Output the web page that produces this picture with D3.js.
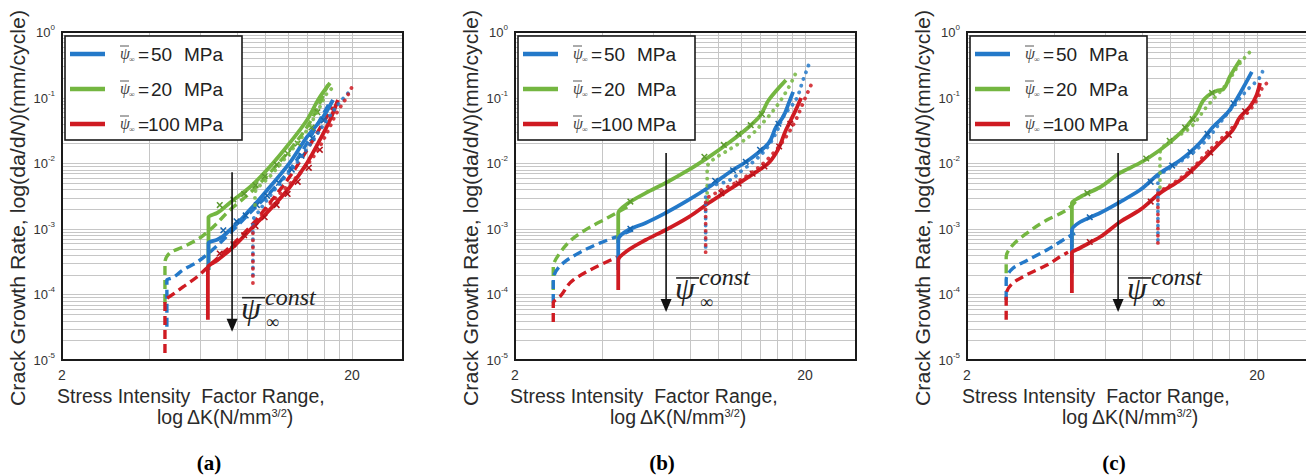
<!DOCTYPE html>
<meta charset="utf-8">
<style>
body { margin: 0; background: #fff; }
svg { display: block; }
.grid line { stroke: #c6c6c6; stroke-width: 1; shape-rendering: crispEdges; }
.tick { font: 14px "Liberation Sans", Arial, sans-serif; fill: #333; }
.lbl { font: 19.5px "Liberation Sans", Arial, sans-serif; fill: #2a2a2a; }
.leg { font: 19px "Liberation Sans", Arial, sans-serif; fill: #222; }
.serif { font-family: "Liberation Serif", "Times New Roman", serif; }
</style>
<body>
<script src="https://d3js.org/d3.v7.min.js"></script>
<script>

// axis ticks
var xGridTicks = [4, 6, 8, 10, 12, 14, 16, 18, 20];
var xTickLabels = [2, 20];
var yExponents = [0, -1, -2, -3, -4, -5];
var legendValues = ["50", "20", "100"];
var panelNames = ["(a)", "(b)", "(c)"];

// ---- panel (a) : [dK, da/dN]
var greenDashA = [[4.53,7.4e-5],[4.53,3.1e-4],[4.71,4.3e-4],[5.23,5.3e-4],[5.84,6.8e-4],[6.47,9.6e-4],[7.59,1.94e-3],[8.89,3.5e-3],[10.4,7.1e-3],[12.2,0.0159],[14.0,0.0356],[15.5,0.083],[16.5,0.156]];
var blueDashA  = [[4.6,3.2e-5],[4.6,1.66e-4],[4.78,1.78e-4],[5.23,2.36e-4],[5.84,3.1e-4],[6.47,4.4e-4],[7.59,8.6e-4],[8.89,1.74e-3],[10.4,3.5e-3],[12.2,7.9e-3],[14.0,0.0203],[15.5,0.0456],[16.8,0.0857]];
var redDashA   = [[4.53,1.28e-5],[4.53,8.2e-5],[4.71,9.3e-5],[5.23,1.3e-4],[5.84,1.84e-4],[6.47,2.8e-4],[7.59,5.3e-4],[8.89,1.06e-3],[10.4,2.47e-3],[12.2,6.2e-3],[14.0,0.0159],[15.9,0.041],[17.2,0.072]];
var greenSolidA = [[6.4,2.36e-4],[6.4,1.5e-3],[6.85,1.74e-3],[7.59,2.5e-3],[8.89,4.3e-3],[10.4,8.75e-3],[12.2,0.0203],[14.0,0.0456],[15.5,0.102],[16.8,0.167]];
var blueSolidA  = [[6.4,2.36e-4],[6.4,6.1e-4],[6.85,6.8e-4],[7.59,9.6e-4],[8.89,1.94e-3],[10.4,4.3e-3],[12.2,0.0101],[14.0,0.0251],[15.9,0.0506],[17.2,0.092]];
var redSolidA   = [[6.37,4.1e-5],[6.37,2.6e-4],[6.85,3.3e-4],[7.59,4.75e-4],[8.89,9.6e-4],[10.4,1.94e-3],[12.2,4.3e-3],[14.0,0.0101],[15.5,0.0226],[16.8,0.0456],[17.9,0.092]];
var greenDotA = [[9.26,2.3e-3],[9.26,3.5e-3],[10.4,6.2e-3],[12.2,0.0145],[14.0,0.032],[15.5,0.072],[16.8,0.13],[17.7,0.156]];
var blueDotA  = [[9.11,2.0e-4],[9.11,1.3e-3],[9.63,1.94e-3],[11.0,4.3e-3],[12.9,0.0101],[14.7,0.0226],[16.4,0.0456],[18.1,0.083],[19.4,0.117]];
var redDotA   = [[9.11,1.49e-4],[9.11,9.6e-4],[9.63,1.51e-3],[11.0,3.05e-3],[12.9,6.2e-3],[14.7,0.0124],[16.4,0.0289],[17.7,0.058],[19.2,0.102],[20,0.145]];
var greenMarkA = [[7.0,2.3e-3],[7.8,2.8e-3],[8.5,3.4e-3],[9.3,4.6e-3],[10.0,6.3e-3],[11.0,9.5e-3],[12.0,0.014],[13.0,0.02],[14.5,0.035],[15.2,0.06]];
var blueMarkA  = [[7.2,9.5e-4],[8.0,1.3e-3],[8.6,1.6e-3],[9.4,2.3e-3],[10.2,3.2e-3],[11.2,5.0e-3],[12.4,8.0e-3],[13.4,0.013],[14.6,0.024],[16.0,0.045]];
var redMarkA   = [[7.0,4.2e-4],[7.8,5.8e-4],[8.5,8.0e-4],[9.3,1.1e-3],[10.0,1.5e-3],[11.0,2.3e-3],[12.0,3.4e-3],[13.0,5.2e-3],[14.2,8.5e-3],[15.5,0.016]];

// ---- panel (b)
var greenDashB = [[2.71,1.17e-4],[2.71,2.62e-4],[2.86,4.3e-4],[3.18,7.2e-4],[3.63,1.06e-3],[4.16,1.46e-3],[4.88,2.15e-3]];
var blueDashB  = [[2.71,7.4e-5],[2.71,1.66e-4],[2.93,3.0e-4],[3.36,4.4e-4],[3.94,6.1e-4],[4.62,8.0e-4],[5.08,9.6e-4]];
var redDashB   = [[2.71,3.8e-5],[2.71,7.4e-5],[2.86,9.3e-5],[3.18,1.66e-4],[3.63,2.36e-4],[4.51,3.7e-4]];
var greenSolidB = [[4.54,6.1e-4],[4.54,1.74e-3],[4.92,2.47e-3],[5.64,3.5e-3],[6.61,5.0e-3],[7.94,7.9e-3],[9.31,0.0124],[10.9,0.0203],[12.8,0.0356],[13.9,0.0506],[15.0,0.092],[17.2,0.185]];
var blueSolidB  = [[4.54,2.36e-4],[4.54,6.75e-4],[4.92,9.6e-4],[5.64,1.23e-3],[6.61,1.74e-3],[7.94,2.75e-3],[9.31,4.3e-3],[10.9,7.1e-3],[12.8,0.0112],[15.0,0.0203],[15.9,0.0356],[16.8,0.0506],[17.6,0.083],[18.2,0.122]];
var redSolidB   = [[4.54,1.17e-4],[4.54,3.3e-4],[4.92,4.75e-4],[5.64,6.75e-4],[6.61,9.6e-4],[7.94,1.51e-3],[9.31,2.47e-3],[10.9,3.9e-3],[12.8,6.2e-3],[15.0,0.0101],[15.9,0.0143],[17.2,0.032],[18.6,0.065],[19.4,0.099]];
var greenDotB = [[9.2,2.75e-3],[9.2,8.75e-3],[9.61,0.0112],[10.9,0.0159],[12.8,0.0251],[14.3,0.041],[15.9,0.072],[17.6,0.145],[18.6,0.237]];
var blueDotB  = [[9.09,5.3e-4],[9.09,4.3e-3],[10.4,5.0e-3],[12.2,7.9e-3],[14.3,0.0143],[15.9,0.0289],[16.8,0.0506],[18.6,0.092],[19.7,0.185],[20.6,0.314]];
var redDotB   = [[9.09,4.4e-4],[9.09,2.75e-3],[9.84,3.5e-3],[11.5,5.0e-3],[13.5,7.9e-3],[15.9,0.0159],[17.2,0.0251],[18.6,0.0456],[19.7,0.083],[21.0,0.156]];
var greenMarkB = [[5.0,2.6e-3],[9.0,0.0125],[10.5,0.019],[11.8,0.028],[13.0,0.038],[14.2,0.056]];
var blueMarkB  = [[5.0,1.0e-3],[9.8,5.4e-3],[11.3,7.8e-3],[12.5,0.0105],[14.0,0.016],[16.2,0.04]];
var redMarkB   = [[10.3,3.5e-3],[11.8,4.9e-3],[13.2,6.9e-3],[14.5,8.9e-3],[16.3,0.018],[17.8,0.04]];

// ---- panel (c)
var greenDashC = [[2.73,2.1e-4],[2.73,3.7e-4],[2.88,5.7e-4],[3.22,8.6e-4],[3.77,1.36e-3],[4.29,1.8e-3],[4.79,2.75e-3]];
var blueDashC  = [[2.73,8.2e-5],[2.73,1.66e-4],[2.88,2.5e-4],[3.22,3.3e-4],[3.77,4.75e-4],[4.29,6.75e-4],[4.71,8.6e-4]];
var redDashC   = [[2.73,4.1e-5],[2.73,9.8e-5],[2.88,1.49e-4],[3.22,2.0e-4],[3.77,2.8e-4],[4.29,4.0e-4],[4.46,4.4e-4]];
var greenSolidC = [[4.6,5.3e-4],[4.6,2.47e-3],[4.91,3.05e-3],[5.75,4.3e-3],[6.74,7.1e-3],[7.9,0.0101],[9.26,0.0159],[10.9,0.0289],[12.4,0.058],[13.4,0.102],[14.6,0.128],[15.3,0.134],[16.1,0.206],[17.5,0.374]];
var blueSolidC  = [[4.6,2.1e-4],[4.6,9.6e-4],[4.91,1.27e-3],[5.75,1.74e-3],[6.74,2.56e-3],[7.9,3.9e-3],[9.26,7.1e-3],[10.9,0.0112],[12.7,0.0203],[14.1,0.0356],[15.8,0.058],[17.5,0.117],[19.2,0.246]];
var redSolidC   = [[4.6,1.05e-4],[4.6,4.3e-4],[4.91,5.1e-4],[5.75,7.5e-4],[6.74,1.27e-3],[7.9,1.94e-3],[9.26,3.5e-3],[10.9,5.55e-3],[12.7,0.0101],[14.9,0.0203],[16.5,0.032],[17.5,0.0506],[18.9,0.072],[20.5,0.167]];
var greenDotC = [[9.26,4.3e-3],[9.26,0.0143],[9.79,0.0203],[11.5,0.032],[13.4,0.072],[15.8,0.167],[17.5,0.337],[19.2,0.532]];
var blueDotC  = [[9.11,6.75e-4],[9.11,6.2e-3],[9.79,7.9e-3],[11.5,0.0124],[13.4,0.0226],[14.9,0.041],[16.5,0.072],[18.5,0.13],[20.5,0.206],[21.0,0.264]];
var redDotC   = [[9.11,6.1e-4],[9.11,3.5e-3],[9.79,4.3e-3],[11.5,7.1e-3],[13.4,0.0143],[14.9,0.0226],[16.5,0.0356],[18.5,0.058],[20,0.092],[21.0,0.145],[22.2,0.185]];
var greenMarkC = [[5.2,3.5e-3],[8.3,0.0118],[10.0,0.022],[11.3,0.035],[12.0,0.047],[14.0,0.118]];
var blueMarkC  = [[5.3,1.5e-3],[8.6,5.2e-3],[10.2,9.2e-3],[11.8,0.0148],[13.5,0.028],[16.6,0.082]];
var redMarkC   = [[5.3,6.3e-4],[8.6,2.6e-3],[11.8,7.6e-3],[13.8,0.0145],[16.0,0.027],[18.2,0.062]];

// arrow annotation [dK, top rate, bottom rate]
var arrowA = [7.72, 7.3e-3, 2.7e-5];
var arrowB = [6.64, 0.0143, 5.4e-5];
var arrowC = [6.64, 0.0143, 5.4e-5];

var colors = { blue: "#2479c9", green: "#74b641", red: "#cf1b22" };
var markColors = ["#5c9a2f", "#1664ad", "#b3121a"];

var panels = [
  { left: 62, arrow: arrowA, mark: [greenMarkA, blueMarkA, redMarkA],
    dash: [greenDashA, blueDashA, redDashA], solid: [greenSolidA, blueSolidA, redSolidA], dot: [greenDotA, blueDotA, redDotA] },
  { left: 515, arrow: arrowB, mark: [greenMarkB, blueMarkB, redMarkB],
    dash: [greenDashB, blueDashB, redDashB], solid: [greenSolidB, blueSolidB, redSolidB], dot: [greenDotB, blueDotB, redDotB] },
  { left: 967, arrow: arrowC, mark: [greenMarkC, blueMarkC, redMarkC],
    dash: [greenDashC, blueDashC, redDashC], solid: [greenSolidC, blueSolidC, redSolidC], dot: [greenDotC, blueDotC, redDotC] }
];
var seriesColors = [colors.green, colors.blue, colors.red];
var legendColors = [colors.blue, colors.green, colors.red];

// minor + major horizontal grid values
var yGrid = [];
for (var e = -5; e < 0; e++) for (var m = 1; m < 10; m++) yGrid.push(m * Math.pow(10, e));
yGrid.push(1);

var svg = d3.select("body").append("svg")
    .attr("width", 1306)
    .attr("height", 475);

var crossMark = d3.symbol().type(d3.symbolX).size(22);

panels.forEach(function(p, pi) {
  var x = d3.scaleLog().domain([2, 30]).range([p.left, p.left + 341]);
  var y = d3.scaleLog().domain([1e-5, 1]).range([360, 32]);
  var g = svg.append("g");

  // gridlines
  g.append("g").attr("class", "grid").selectAll("line")
      .data(yGrid).enter().append("line")
      .attr("x1", x(2)).attr("x2", x(30))
      .attr("y1", function(d) { return Math.round(y(d)) + 0.5; })
      .attr("y2", function(d) { return Math.round(y(d)) + 0.5; });
  g.append("g").attr("class", "grid").selectAll("line")
      .data(xGridTicks).enter().append("line")
      .attr("y1", y(1)).attr("y2", y(1e-5))
      .attr("x1", function(d) { return Math.round(x(d)) + 0.5; })
      .attr("x2", function(d) { return Math.round(x(d)) + 0.5; });

  // curves rise steadily, so smooth them as x = f(y)
  var line = d3.line()
      .curve(d3.curveMonotoneY)
      .x(function(d) { return x(d[0]); })
      .y(function(d) { return y(d[1]); });

  // dashed curves
  p.dash.forEach(function(s, i) {
    g.append("path").attr("d", line(s))
      .attr("fill", "none").attr("stroke", seriesColors[i])
      .attr("stroke-width", 3.4).attr("stroke-dasharray", "9,5");
  });
  // solid curves
  p.solid.forEach(function(s, i) {
    g.append("path").attr("d", line(s))
      .attr("fill", "none").attr("stroke", seriesColors[i])
      .attr("stroke-width", 3.8).attr("stroke-linejoin", "round");
  });
  // test markers
  p.mark.forEach(function(s, i) {
    g.selectAll(null).data(s).enter().append("path")
      .attr("d", crossMark)
      .attr("transform", function(d) { return "translate(" + x(d[0]) + "," + y(d[1]) + ")"; })
      .attr("fill", "none").attr("stroke", markColors[i]).attr("stroke-width", 1.5);
  });
  // dotted curves
  p.dot.forEach(function(s, i) {
    g.append("path").attr("d", line(s))
      .attr("fill", "none").attr("stroke", seriesColors[i])
      .attr("stroke-width", 3.8).attr("stroke-linecap", "round")
      .attr("stroke-dasharray", "0.1,7").attr("opacity", 0.85);
  });

  // frame
  g.append("rect")
      .attr("x", x(2)).attr("y", y(1))
      .attr("width", x(30) - x(2)).attr("height", y(1e-5) - y(1))
      .attr("fill", "none").attr("stroke", "#1a1a1a").attr("stroke-width", 2);

  // y tick labels
  yExponents.forEach(function(ex) {
    var t = g.append("text").attr("class", "tick")
        .attr("x", x(2) - 7).attr("y", y(Math.pow(10, ex)) + 5)
        .attr("text-anchor", "end").style("font-size", "13px");
    t.append("tspan").text("10");
    t.append("tspan").attr("dy", -7).style("font-size", "8px").text(ex === 0 ? "0" : String(ex));
  });
  // x tick labels
  g.selectAll(".xt").data(xTickLabels).enter().append("text")
      .attr("class", "tick")
      .attr("x", function(d) { return x(d); })
      .attr("y", y(1e-5) + 20)
      .attr("text-anchor", "middle")
      .text(function(d) { return d; });

  // axis titles
  var yl = g.append("text").attr("class", "lbl")
      .attr("transform", "translate(" + (p.left - 37) + ",208) rotate(-90)")
      .attr("text-anchor", "middle")
      .attr("textLength", 396).attr("lengthAdjust", "spacingAndGlyphs");
  yl.append("tspan").text("Crack Growth Rate, log(da/d");
  yl.append("tspan").style("font-style", "italic").text("N");
  yl.append("tspan").text(")(mm/cycle)");

  g.append("text").attr("class", "lbl")
      .attr("x", p.left - 5).attr("y", 403)
      .style("white-space", "pre")
      .text("Stress Intensity  Factor Range,");
  var xl2 = g.append("text").attr("class", "lbl")
      .attr("x", p.left + 95).attr("y", 424);
  xl2.append("tspan").text("log\u2009\u0394K(N/mm");
  xl2.append("tspan").attr("dy", -7).style("font-size", "11px").text("3/2");
  xl2.append("tspan").attr("dy", 7).text(")");

  g.append("text").attr("class", "serif")
      .attr("x", p.left + 147).attr("y", 470)
      .attr("text-anchor", "middle")
      .style("font-size", "21px").style("font-weight", "bold")
      .text(panelNames[pi]);

  // legend
  var lg = g.append("g").attr("transform", "translate(" + (p.left + 3) + ",36)");
  lg.append("rect").attr("width", 177).attr("height", 104)
      .attr("fill", "#fff").attr("stroke", "#1a1a1a").attr("stroke-width", 1.6);
  legendValues.forEach(function(v, i) {
    var ly = 18 + i * 35;
    lg.append("line").attr("x1", 5).attr("x2", 40).attr("y1", ly).attr("y2", ly)
      .attr("stroke", legendColors[i]).attr("stroke-width", 4.5);
    lg.append("text").attr("class", "serif").attr("x", 55).attr("y", ly + 5)
      .style("font-size", "16px").style("font-style", "italic").attr("fill", "#444").text("\u03c8");
    lg.append("line").attr("x1", 55).attr("x2", 64).attr("y1", ly - 8).attr("y2", ly - 8)
      .attr("stroke", "#444").attr("stroke-width", 0.9);
    lg.append("text").attr("class", "serif").attr("x", 64).attr("y", ly + 8)
      .style("font-size", "8px").attr("fill", "#444").text("\u221e");
    lg.append("text").attr("class", "leg").attr("x", 73).attr("y", ly + 7).text("=");
    lg.append("text").attr("class", "leg").attr("x", v === "100" ? 83 : 86).attr("y", ly + 7).text(v);
    lg.append("text").attr("class", "leg").attr("x", 158).attr("y", ly + 7)
      .attr("text-anchor", "end").text("MPa");
  });

  // arrow with psi label
  var ax = x(p.arrow[0]), at = y(p.arrow[1]), ab = y(p.arrow[2]);
  g.append("line").attr("x1", ax).attr("x2", ax).attr("y1", at).attr("y2", ab - 10)
      .attr("stroke", "#111").attr("stroke-width", 1.6);
  g.append("path")
      .attr("d", "M" + (ax - 5.5) + "," + (ab - 13) + "L" + (ax + 5.5) + "," + (ab - 13) + "L" + ax + "," + ab + "Z")
      .attr("fill", "#111");
  g.append("text").attr("class", "serif").attr("x", ax + 9).attr("y", ab - 13)
      .style("font-size", "32px").style("font-style", "italic").attr("fill", "#222").text("\u03c8");
  g.append("line").attr("x1", ax + 10).attr("x2", ax + 33).attr("y1", ab - 34).attr("y2", ab - 34)
      .attr("stroke", "#222").attr("stroke-width", 1.6);
  g.append("text").attr("class", "serif").attr("x", ax + 33).attr("y", ab - 27)
      .style("font-size", "24px").style("font-style", "italic").attr("fill", "#222").text("const");
  g.append("text").attr("class", "serif").attr("x", ax + 34).attr("y", ab - 4)
      .style("font-size", "18px").attr("fill", "#222").text("\u221e");
});

</script>
</body>
